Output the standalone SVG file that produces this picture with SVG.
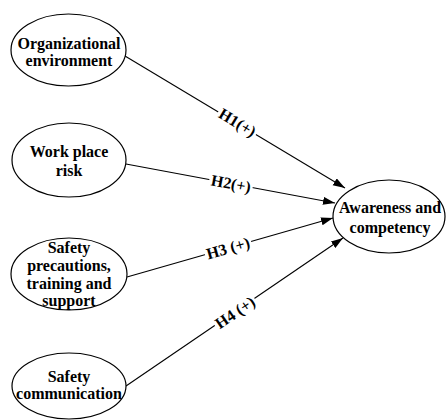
<svg xmlns="http://www.w3.org/2000/svg" width="446" height="420" viewBox="0 0 446 420">
<style>
.node ellipse{fill:#fff;stroke:#000;stroke-width:1.2}
.node text{font-family:"Liberation Serif","Times New Roman",serif;font-weight:bold;font-size:16px;fill:#000;text-anchor:middle}
.edge line{stroke:#000;stroke-width:1.1;fill:none}
.lbl text{font-family:"Liberation Serif","Times New Roman",serif;font-weight:bold;font-size:16px;fill:#000;text-anchor:middle;dominant-baseline:central}
.lbl rect{fill:#fff}
</style>
<defs>
<marker id="arr" markerUnits="userSpaceOnUse" markerWidth="13" markerHeight="9" refX="12" refY="4" orient="auto">
<path d="M0,0 L12,4 L0,8 Z" fill="#000"/>
</marker>
</defs>
<rect width="446" height="420" fill="#fff"/>
<g id="connectors">
<g class="edge"><line x1="125" y1="56" x2="345" y2="188" marker-end="url(#arr)"/></g>
<g class="edge"><line x1="126" y1="164" x2="335" y2="203" marker-end="url(#arr)"/></g>
<g class="edge"><line x1="127" y1="277" x2="333" y2="218" marker-end="url(#arr)"/></g>
<g class="edge"><line x1="126" y1="386" x2="343" y2="238" marker-end="url(#arr)"/></g>
<g class="lbl" transform="translate(237.5,122.5) rotate(31.2)"><rect x="-22" y="-8" width="44" height="16"/><text x="0" y="0">H1(+)</text></g>
<g class="lbl" transform="translate(231,183.5) rotate(10.6)"><rect x="-22" y="-8" width="44" height="16"/><text x="0" y="0">H2(+)</text></g>
<g class="lbl" transform="translate(228,248) rotate(-16)"><rect x="-24" y="-8" width="48" height="16"/><text x="0" y="0">H3 (+)</text></g>
<g class="lbl" transform="translate(235,312.5) rotate(-34.4)"><rect x="-24" y="-8" width="48" height="16"/><text x="0" y="0">H4 (+)</text></g>
</g>
<g id="org" class="node"><ellipse cx="68.5" cy="50" rx="57.5" ry="36"/><text x="69" y="49">Organizational</text><text x="69" y="66">environment</text></g>
<g id="risk" class="node"><ellipse cx="69" cy="160" rx="57" ry="37"/><text x="69" y="156.5">Work place</text><text x="69" y="175.5">risk</text></g>
<g id="prec" class="node"><ellipse cx="69" cy="274" rx="58" ry="36"/><text x="69" y="253">Safety</text><text x="69" y="271">precautions,</text><text x="69" y="288.5">training and</text><text x="69" y="305.5">support</text></g>
<g id="comm" class="node"><ellipse cx="69" cy="386" rx="57" ry="33"/><text x="69" y="381.5">Safety</text><text x="69" y="398.5">communication</text></g>
<g id="aware" class="node"><ellipse cx="389" cy="216.5" rx="56" ry="36.5"/><text x="390" y="213">Awareness and</text><text x="390" y="233">competency</text></g>
</svg>
